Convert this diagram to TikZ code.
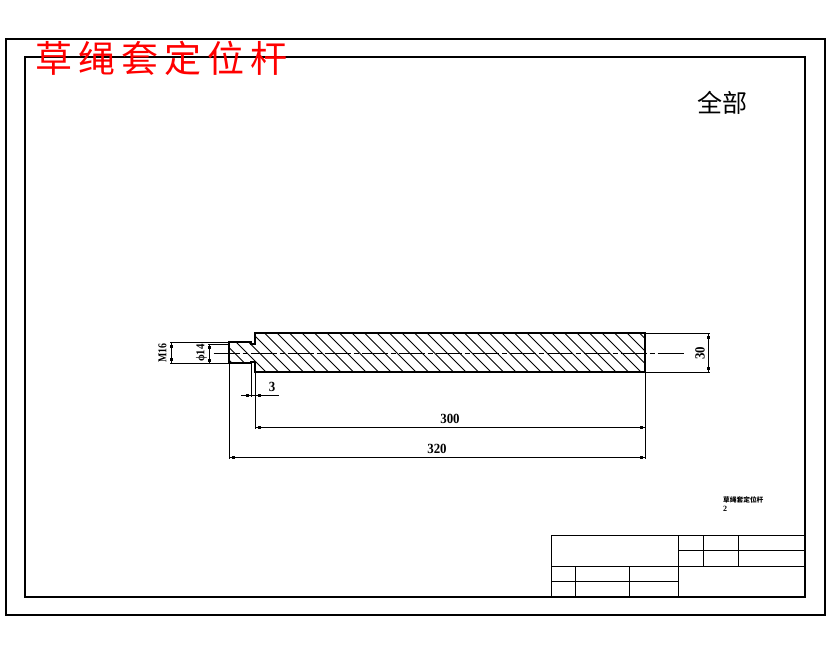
\documentclass[tikz,border=0pt]{standalone}
\usepackage{fontspec}
\setmainfont{Liberation Serif}
\newfontfamily\cjk{Noto Sans CJK SC}
\begin{document}
\begin{tikzpicture}[x=1pt,y=-1pt,
  frameline/.style={draw=black,line width=2pt},
  partline/.style={draw=black,line width=2pt},
  thinline/.style={draw=black,line width=1pt},
  hatchline/.style={draw=black,line width=0.8pt},
  centerline/.style={draw=black,line width=0.9pt,dash pattern=on 26pt off 3pt on 5pt off 3pt},
  tickmark/.style={fill=black,minimum size=3pt,inner sep=0pt,outer sep=0pt,rectangle},
  dimtext/.style={font=\bfseries\fontsize{14}{14}\selectfont,inner sep=0pt,xscale=0.92,transform shape},
  dimtextv/.style={font=\bfseries\fontsize{14}{14}\selectfont,inner sep=0pt,rotate=90,xscale=0.92,transform shape},
  dimtexts/.style={font=\bfseries\fontsize{12}{12}\selectfont,inner sep=0pt,rotate=90,xscale=0.82,transform shape}]
\useasboundingbox (0,0) rectangle (830,654);
\fill[white] (0,0) rectangle (830,654);
% frames
\draw[frameline] (6,39) rectangle (825,615);
\draw[frameline] (25,57) rectangle (805,597);
% title block
\draw[thinline] (551,597) -- (551,535) -- (805,535);
\draw[thinline] (551,566) -- (805,566);
\draw[thinline] (678,535) -- (678,597);
\draw[thinline] (703,535) -- (703,566);
\draw[thinline] (738,535) -- (738,566);
\draw[thinline] (678,550) -- (805,550);
\draw[thinline] (551,581) -- (678,581);
\draw[thinline] (575,566) -- (575,597);
\draw[thinline] (629,566) -- (629,597);
% hatching
\begin{scope}
\clip (229,342) -- (251,342) -- (251,344) -- (255,344) -- (255,333) -- (645,333) -- (645,372) -- (255,372) -- (255,362) -- (251,362) -- (251,363) -- (229,363) -- cycle;
\foreach \s in {170,182.5,...,660}
  \draw[hatchline] (\s,326) -- (\s+52,378);
\end{scope}
% part outline
\draw[partline] (229,342) -- (251,342) -- (251,344) -- (255,344) -- (255,333) -- (645,333) -- (645,372) -- (255,372) -- (255,362) -- (251,362) -- (251,363) -- (229,363) -- cycle;
% centre line
\draw[centerline] (213.5,353) -- (686,353);
% extension lines
\draw[thinline] (170,342) -- (229,342);
\draw[thinline] (170,363) -- (229,363);
\draw[thinline] (208,344) -- (229,344);
\draw[thinline] (229,363) -- (229,459);
\draw[thinline] (251,363) -- (251,397);
\draw[thinline] (255,372) -- (255,429);
\draw[thinline] (645,372) -- (645,459);
\draw[thinline] (645,333) -- (710,333);
\draw[thinline] (645,372) -- (710,372);
% dimension lines
\draw[thinline] (171,342) -- (171,363);
\node[tickmark] (m1) at (171,346) {};
\node[tickmark] (m2) at (171,359) {};
\draw[thinline] (209,344) -- (209,363);
\node[tickmark] (p1) at (209,347) {};
\node[tickmark] (p2) at (209,360) {};
\draw[thinline] (241,395) -- (279,395);
\node[tickmark] (t1) at (247,395) {};
\node[tickmark] (t2) at (259,395) {};
\draw[thinline] (255,427) -- (645,427);
\node[tickmark] (a1) at (259,427) {};
\node[tickmark] (a2) at (641,427) {};
\draw[thinline] (229,457) -- (645,457);
\node[tickmark] (b1) at (233,457) {};
\node[tickmark] (b2) at (641,457) {};
\draw[thinline] (708,333) -- (708,372);
\node[tickmark] (c1) at (708,337) {};
\node[tickmark] (c2) at (708,368) {};
% dimension text
\node[dimtexts] (lm) at (162.5,353) {M16};
\node[dimtexts,xscale=1.1] (lp) at (201.5,353) {ϕ14};
\node[dimtext] (l3) at (272,387) {3};
\node[dimtext] (l300) at (450,419) {300};
\node[dimtext] (l320) at (437,449) {320};
\node[dimtextv] (l30) at (700,353) {30};
% CJK text
\node[inner sep=0pt,font=\cjk\fontsize{25}{25}\selectfont] (quan) at (722,103) {全部};
\node[inner sep=0pt,font=\cjk\fontsize{37}{37}\selectfont,text=red] (ttl) at (161.5,58) {草\hspace{6pt}绳\hspace{6pt}套\hspace{6pt}定\hspace{6pt}位\hspace{6pt}杆};
\node[inner sep=0pt,anchor=west,font=\cjk\bfseries\fontsize{6.7}{6.7}\selectfont] (sm1) at (723,500) {草绳套定位杆};
\node[inner sep=0pt,anchor=west,font=\bfseries\fontsize{8}{8}\selectfont] (sm2) at (723,509) {2};
\end{tikzpicture}
\end{document}
